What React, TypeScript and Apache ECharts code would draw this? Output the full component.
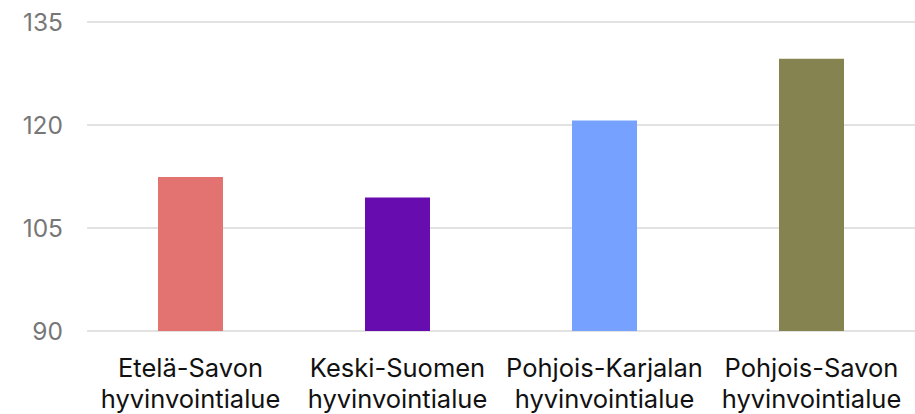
import React, { useEffect, useRef } from "react";
import * as echarts from "echarts";

const categories = [
  "Etelä-Savon\nhyvinvointialue",
  "Keski-Suomen\nhyvinvointialue",
  "Pohjois-Karjalan\nhyvinvointialue",
  "Pohjois-Savon\nhyvinvointialue",
];
const values = [112.4, 109.4, 120.6, 129.6];
const colors = ["#E37371", "#670CAE", "#76A1FF", "#858450"];

export default function App() {
  const ref = useRef<HTMLDivElement>(null);
  useEffect(() => {
    if (!ref.current) return;
    const chart = echarts.init(ref.current, null, { renderer: "svg" });
    chart.setOption({
      animation: false,
      grid: { left: 87, right: 0, top: 21.5, bottom: 81 },
      xAxis: {
        type: "category",
        data: categories,
        axisLine: { show: false },
        axisTick: { show: false },
        axisLabel: {
          color: "#111",
          fontFamily: "Inter",
          fontSize: 25.5,
          lineHeight: 31,
          margin: 21,
          interval: 0,
        },
      },
      yAxis: {
        type: "value",
        min: 90,
        max: 135,
        interval: 15,
        axisLine: { show: false },
        axisTick: { show: false },
        splitLine: { lineStyle: { color: "#e2e2e2", width: 2 } },
        axisLabel: {
          color: "#777",
          fontFamily: "Inter",
          fontSize: 24.5,
          margin: 24,
        },
      },
      series: [
        {
          type: "bar",
          barWidth: 65,
          data: values.map((v, i) => ({ value: v, itemStyle: { color: colors[i] } })),
        },
      ],
    });
    return () => chart.dispose();
  }, []);
  return <div ref={ref} style={{ width: 915, height: 414, position: "absolute", left: 0, top: 0 }} />;
}
